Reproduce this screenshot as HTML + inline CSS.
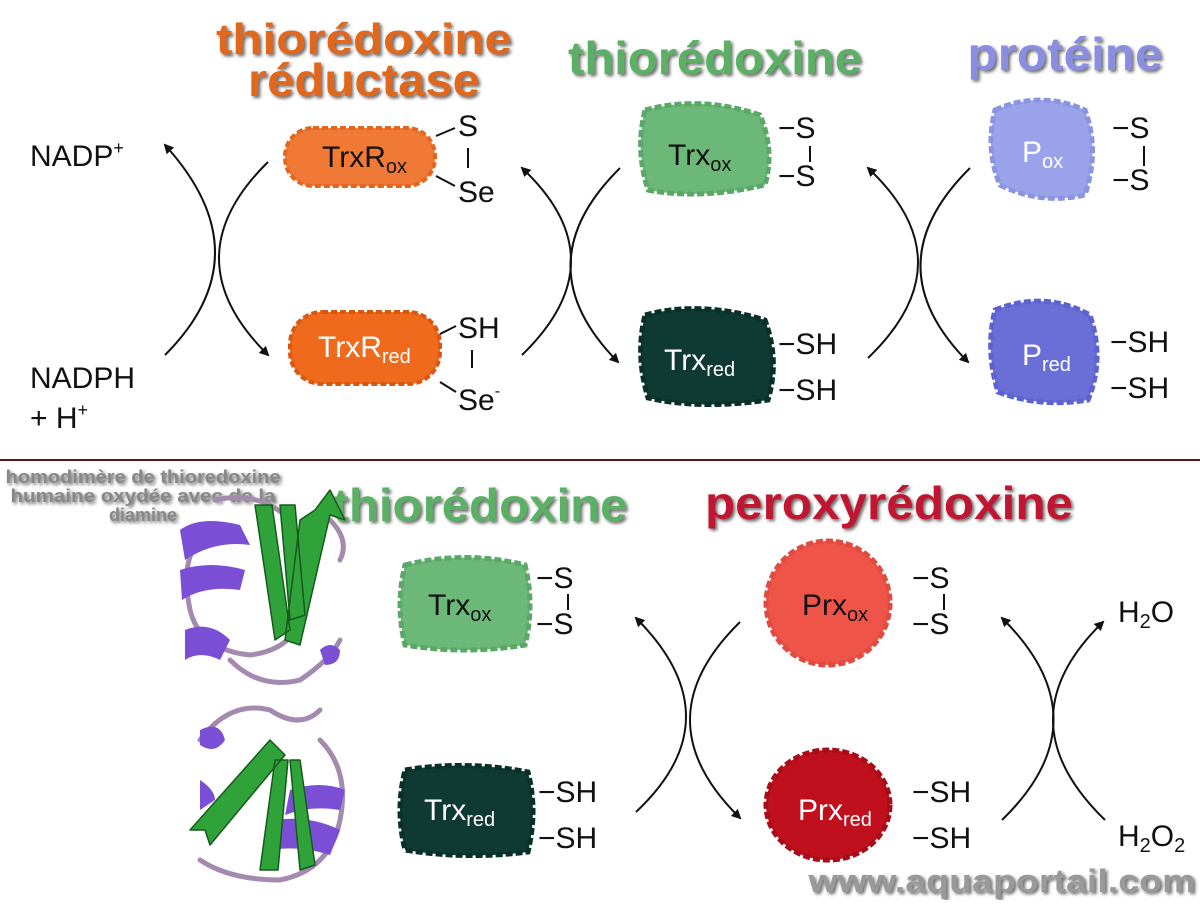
<!DOCTYPE html>
<html><head><meta charset="utf-8"><style>
body{margin:0;background:#fff;}
svg text{font-family:"Liberation Sans",sans-serif;}
.t{font-size:30px;fill:#111;}
.w{font-size:30px;fill:#fff;}
</style></head><body>
<svg width="1200" height="900" viewBox="0 0 1200 900" xmlns="http://www.w3.org/2000/svg">
<defs>
<marker id="a" markerWidth="10" markerHeight="10" refX="8" refY="5" orient="auto" markerUnits="userSpaceOnUse"><path d="M0,0 L10,5 L0,10 z" fill="#111"/></marker>
<filter id="sh"><feDropShadow dx="2" dy="2" stdDeviation="1.5" flood-color="#666"/></filter>
</defs>
<rect width="1200" height="900" fill="#fff"/>
<line x1="0" y1="460" x2="1200" y2="460" stroke="#5a1a1a" stroke-width="2"/>

<!-- titles -->
<g filter="url(#sh)" font-weight="bold">
<text x="364" y="54" text-anchor="middle" font-size="44" font-weight="bold" fill="#e0681f" textLength="296" lengthAdjust="spacingAndGlyphs">thiorédoxine</text>
<text x="364" y="96" text-anchor="middle" font-size="46" font-weight="bold" fill="#e0681f" textLength="232" lengthAdjust="spacingAndGlyphs">réductase</text>
<text x="715" y="74" text-anchor="middle" font-size="46" font-weight="bold" fill="#5bb065" textLength="294" lengthAdjust="spacingAndGlyphs">thiorédoxine</text>
<text x="1065" y="70" text-anchor="middle" font-size="46" font-weight="bold" fill="#8a8ee0" textLength="195" lengthAdjust="spacingAndGlyphs">protéine</text>
<text x="480" y="521" text-anchor="middle" font-size="46" font-weight="bold" fill="#5bb065" textLength="295" lengthAdjust="spacingAndGlyphs">thiorédoxine</text>
<text x="889" y="519" text-anchor="middle" font-size="46" font-weight="bold" fill="#c01830" textLength="368" lengthAdjust="spacingAndGlyphs">peroxyrédoxine</text>
<text x="1002" y="892" text-anchor="middle" font-size="32" font-weight="bold" fill="#999" textLength="387" lengthAdjust="spacingAndGlyphs">www.aquaportail.com</text>
<g font-size="18" font-weight="bold" fill="#888" text-anchor="middle">
<text x="143" y="483" textLength="275" lengthAdjust="spacingAndGlyphs">homodimère de thioredoxine</text>
<text x="143" y="502" textLength="265" lengthAdjust="spacingAndGlyphs">humaine oxydée avec de la</text>
<text x="143" y="521">diamine</text>
</g>
</g>

<!-- blobs -->
<g>
<rect x="285" y="128" width="150" height="58" rx="28" fill="#f07a35" stroke="#e36520" stroke-width="4" stroke-dasharray="6 3"/>
<rect x="290" y="312" width="150" height="72" rx="32" fill="#ef6a1c" stroke="#d85810" stroke-width="4" stroke-dasharray="6 3"/>
<path d="M645,110 Q700,95 760,115 Q775,150 765,185 Q700,200 648,190 Q635,150 645,110z" fill="#6cb878" stroke="#5aa868" stroke-width="5" stroke-dasharray="7 3"/>
<path d="M645,315 Q700,300 765,320 Q780,360 768,400 Q700,410 648,398 Q635,355 645,315z" fill="#0f3a33" stroke="#0a2e28" stroke-width="5" stroke-dasharray="7 3"/>
<path d="M995,110 Q1040,90 1085,110 Q1100,150 1085,195 Q1040,205 1000,185 Q985,150 995,110z" fill="#9aa3ea" stroke="#8a94e0" stroke-width="5" stroke-dasharray="7 3"/>
<path d="M995,310 Q1045,290 1090,315 Q1105,360 1088,400 Q1040,408 998,392 Q985,350 995,310z" fill="#6a6fd8" stroke="#5c62cf" stroke-width="5" stroke-dasharray="7 3"/>
<path d="M405,565 Q465,550 525,565 Q535,605 525,645 Q465,655 405,645 Q395,605 405,565z" fill="#6cb878" stroke="#5aa868" stroke-width="5" stroke-dasharray="7 3"/>
<path d="M405,770 Q465,760 528,772 Q538,810 528,852 Q465,860 405,850 Q395,810 405,770z" fill="#0f3a33" stroke="#0a2e28" stroke-width="5" stroke-dasharray="7 3"/>
<ellipse cx="828" cy="603" rx="62" ry="62" fill="#ef5448" stroke="#e04a40" stroke-width="5" stroke-dasharray="7 3"/>
<ellipse cx="828" cy="805" rx="62" ry="55" fill="#c0101e" stroke="#a80c18" stroke-width="5" stroke-dasharray="7 3"/>
</g>

<!-- blob labels -->
<text x="322" y="167" class="t">TrxR<tspan font-size="20" dy="6">ox</tspan></text>
<text x="318" y="357" class="w">TrxR<tspan font-size="20" dy="6">red</tspan></text>
<text x="668" y="165" class="t">Trx<tspan font-size="20" dy="6">ox</tspan></text>
<text x="664" y="370" class="w">Trx<tspan font-size="20" dy="6">red</tspan></text>
<text x="1022" y="162" class="w">P<tspan font-size="20" dy="6">ox</tspan></text>
<text x="1022" y="365" class="w">P<tspan font-size="20" dy="6">red</tspan></text>
<text x="428" y="615" class="t">Trx<tspan font-size="20" dy="6">ox</tspan></text>
<text x="424" y="820" class="w">Trx<tspan font-size="20" dy="6">red</tspan></text>
<text x="802" y="615" class="t">Prx<tspan font-size="20" dy="6">ox</tspan></text>
<text x="798" y="820" class="w">Prx<tspan font-size="20" dy="6">red</tspan></text>

<!-- sulfur groups -->
<g>
<text x="458" y="136" class="t">S</text><line x1="468" y1="148" x2="468" y2="168" stroke="#111" stroke-width="2"/>
<text x="458" y="202" class="t">Se</text>
<line x1="436" y1="136" x2="455" y2="128" stroke="#111" stroke-width="2"/>
<line x1="436" y1="176" x2="455" y2="186" stroke="#111" stroke-width="2"/>
<text x="458" y="338" class="t">SH</text><line x1="472" y1="350" x2="472" y2="368" stroke="#111" stroke-width="2"/>
<text x="458" y="410" class="t">Se<tspan font-size="16" dy="-14">-</tspan></text>
<line x1="440" y1="334" x2="456" y2="326" stroke="#111" stroke-width="2"/>
<line x1="440" y1="382" x2="456" y2="392" stroke="#111" stroke-width="2"/>
<text x="778" y="138" class="t">−S</text><text x="778" y="186" class="t">−S</text><line x1="810" y1="146" x2="810" y2="162" stroke="#111" stroke-width="2"/>
<text x="778" y="354" class="t">−SH</text><text x="778" y="400" class="t">−SH</text>
<text x="1112" y="138" class="t">−S</text><text x="1112" y="190" class="t">−S</text><line x1="1144" y1="146" x2="1144" y2="166" stroke="#111" stroke-width="2"/>
<text x="1110" y="352" class="t">−SH</text><text x="1110" y="398" class="t">−SH</text>
<text x="536" y="588" class="t">−S</text><text x="536" y="634" class="t">−S</text><line x1="568" y1="594" x2="568" y2="610" stroke="#111" stroke-width="2"/>
<text x="538" y="802" class="t">−SH</text><text x="538" y="848" class="t">−SH</text>
<text x="912" y="588" class="t">−S</text><text x="912" y="634" class="t">−S</text><line x1="944" y1="594" x2="944" y2="610" stroke="#111" stroke-width="2"/>
<text x="912" y="802" class="t">−SH</text><text x="912" y="848" class="t">−SH</text>
<text x="30" y="166" class="t">NADP<tspan font-size="18" dy="-12">+</tspan></text>
<text x="30" y="388" class="t">NADPH</text>
<text x="30" y="428" class="t">+ H<tspan font-size="18" dy="-12">+</tspan></text>
<text x="1118" y="622" class="t">H<tspan font-size="20" dy="6">2</tspan><tspan dy="-6">O</tspan></text>
<text x="1118" y="846" class="t">H<tspan font-size="20" dy="6">2</tspan><tspan dy="-6">O</tspan><tspan font-size="20" dy="6">2</tspan></text>
</g>

<!-- arrows -->
<g fill="none" stroke="#111" stroke-width="2">
<path d="M268,162 Q170,258 268,355" marker-end="url(#a)"/>
<path d="M165,355 Q265,255 165,145" marker-end="url(#a)"/>
<path d="M620,168 Q522,265 618,362" marker-end="url(#a)"/>
<path d="M522,355 Q620,260 522,168" marker-end="url(#a)"/>
<path d="M970,168 Q872,265 968,362" marker-end="url(#a)"/>
<path d="M868,358 Q968,262 868,168" marker-end="url(#a)"/>
<path d="M740,622 Q640,720 740,818" marker-end="url(#a)"/>
<path d="M636,812 Q736,718 636,618" marker-end="url(#a)"/>
<path d="M1002,820 Q1105,720 1002,618" marker-end="url(#a)"/>
<path d="M1105,820 Q1002,720 1103,622" marker-end="url(#a)"/>
</g>

<!-- protein structure approximation -->
<g stroke-linecap="round" stroke-linejoin="round">
<path d="M200,540 Q180,560 190,610 Q200,650 250,655 Q290,650 300,620 M230,660 Q260,690 300,680 Q330,660 340,640 M215,500 Q260,490 290,520 M330,520 Q350,540 340,560" fill="none" stroke="#a58ab0" stroke-width="5"/>
<path d="M180,530 Q200,515 240,525 L250,545 Q215,540 185,560z M180,570 Q210,560 245,570 L240,590 Q205,585 182,600z M185,630 Q210,620 230,640 L220,660 Q200,650 185,660z" fill="#7a4fd6"/>
<path d="M255,505 L275,640 L290,630 L272,505z M280,505 L290,620 L305,615 L295,505z M300,520 L285,640 L300,645 L330,515 L345,520 L330,490 L315,510z" fill="#2fa33a" stroke="#165a1d" stroke-width="1.5"/>
<path d="M320,650 Q330,640 340,650 Q340,665 325,665z" fill="#7a4fd6"/>
<path d="M200,740 Q230,700 270,710 Q300,730 320,710 M320,740 Q350,770 340,820 Q330,870 280,880 Q230,880 200,860" fill="none" stroke="#a58ab0" stroke-width="5"/>
<path d="M200,730 Q220,720 225,740 Q215,755 200,745z" fill="#7a4fd6"/>
<path d="M290,790 Q320,780 345,790 L340,810 Q310,805 285,815z M275,820 Q310,815 340,830 L330,855 Q300,845 270,850z M200,780 Q215,790 215,800 L200,810z" fill="#7a4fd6"/>
<path d="M270,740 L190,830 L205,830 L210,845 L285,755z M275,760 L260,870 L278,870 L288,760z M290,760 L300,870 L315,865 L300,760z" fill="#2fa33a" stroke="#165a1d" stroke-width="1.5"/>
</g>
</svg>
</body></html>
